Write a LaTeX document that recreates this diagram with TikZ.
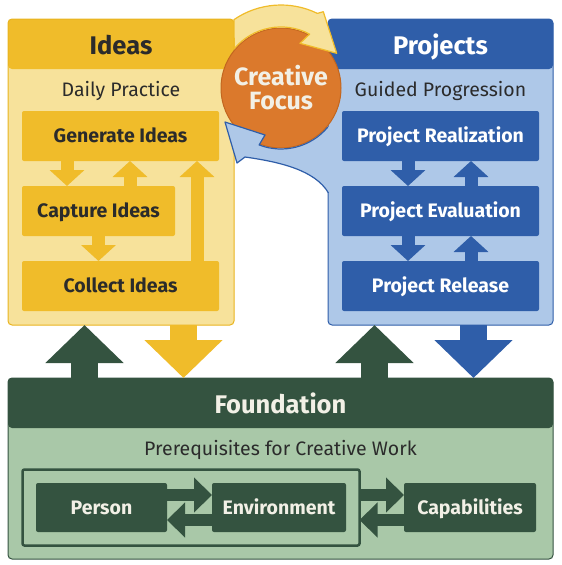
\documentclass[tikz,border=0pt]{standalone}
\usepackage{fontspec}
\setmainfont{Fira Sans}
\usetikzlibrary{positioning, arrows.meta, calc, fit}

\definecolor{ideadark}{HTML}{F0BC2A}
\definecolor{idealight}{HTML}{F7E29B}
\definecolor{ideaedge}{HTML}{E9B41F}
\definecolor{projdark}{HTML}{2F5EA9}
\definecolor{projlight}{HTML}{AEC8E8}
\definecolor{funddark}{HTML}{345340}
\definecolor{fundlight}{HTML}{A9C8A8}
\definecolor{focuscol}{HTML}{DB792C}
\definecolor{focusedge}{HTML}{C2661F}
\definecolor{txtdark}{HTML}{2B2B2B}
\definecolor{txtlight}{HTML}{F2F0E6}

\begin{document}
\begin{tikzpicture}[x=1pt, y=-1pt,
    panel/.style n args={3}{draw=#3, fill=#2, line width=1pt, rounded corners=4pt, outer sep=0pt,
        path picture={\fill[#1] (path picture bounding box.north west) rectangle ([yshift=-50pt]path picture bounding box.north east);}},
    headtxt/.style={font=\fontsize{25.5}{28}\selectfont\bfseries, text height=17.6pt, text depth=0pt},
    subtxt/.style={font=\fontsize{19.5}{22}\selectfont, text=txtdark},
    stepbox/.style={fill=#1, rounded corners=2pt, minimum height=50pt, inner sep=0pt, outer sep=0pt,
        text height=13.5pt, text depth=0pt, font=\fontsize{19.5}{22}\selectfont\bfseries},
    barrow/.style={draw=#1, line width=13pt, -{Triangle[width=34pt, length=16pt]}},
    bigarrow/.style={draw=#1, line width=27pt, -{Triangle[width=76pt, length=38pt]}},
    sarrow/.style={draw=#1, line width=12pt, -{Triangle[width=34pt, length=18pt]}}
]
\useasboundingbox (0,0) rectangle (562,565);

% panels
\node[panel={ideadark}{idealight}{ideaedge}, minimum width=226pt, minimum height=306pt] (ideasbox) at (121,172) {};
\node[panel={projdark}{projlight}{projdark}, minimum width=225pt, minimum height=306pt] (projbox) at (440.5,172) {};
\node[panel={funddark}{fundlight}{funddark}, minimum width=545pt, minimum height=181pt] (fnd) at (280.5,468.5) {};

\node[headtxt, text=txtdark] (ideastitle) at ([yshift=-27pt]ideasbox.north) {Ideas};
\node[subtxt] (ideassub) at ([yshift=-72pt]ideasbox.north) {Daily Practice};
\node[headtxt, text=white] (projtitle) at ([yshift=-27pt]projbox.north) {Projects};
\node[subtxt] (projsub) at ([yshift=-72pt]projbox.north) {Guided Progression};
\node[headtxt, text=txtlight] (fndtitle) at ([yshift=-27pt]fnd.north) {Foundation};
\node[subtxt] (fndsub) at ([yshift=-72pt]fnd.north) {Prerequisites for Creative Work};

% ideas
\node[stepbox=ideadark, minimum width=197pt, text=txtdark] (gen) at (120.5,136) {Generate Ideas};
\node[stepbox=ideadark, minimum width=153pt, text=txtdark, below=25pt of gen.south west, anchor=north west] (cap) {Capture Ideas};
\node[stepbox=ideadark, minimum width=197pt, text=txtdark, below=25pt of cap.south west, anchor=north west] (col) {Collect Ideas};

\draw[barrow=ideadark] ([xshift=45pt]gen.south west) -- ([xshift=45pt]cap.north west);
\draw[barrow=ideadark] ([xshift=108pt]cap.north west) -- ([xshift=108pt]gen.south west);
\draw[barrow=ideadark] (cap.south) -- (cap.south |- col.north);
\draw[barrow=ideadark] ([xshift=-22pt]col.north east) -- ([xshift=-22pt]gen.south east);

% projects
\node[stepbox=projdark, minimum width=197pt, text=white] (real) at (440.5,136) {Project Realization};
\node[stepbox=projdark, minimum width=197pt, text=white, below=25pt of real] (eval) {Project Evaluation};
\node[stepbox=projdark, minimum width=197pt, text=white, below=25pt of eval] (rel) {Project Release};

\foreach \a/\b in {real/eval, eval/rel} {
    \draw[barrow=projdark] ([xshift=66pt]\a.south west) -- ([xshift=66pt]\b.north west);
    \draw[barrow=projdark] ([xshift=129pt]\b.north west) -- ([xshift=129pt]\a.south west);
}

% foundation
\node[stepbox=funddark, minimum width=131pt, minimum height=49pt, text=txtlight] (person) at (101.5,507.5) {Person};
\node[stepbox=funddark, minimum width=134pt, minimum height=49pt, text=txtlight, right=45pt of person] (env) {Environment};
\node[fit=(person)(env), inner sep=13.5pt, outer sep=0pt, draw=funddark, line width=2.5pt, rounded corners=2pt] (group) {};
\node[stepbox=funddark, minimum width=132pt, minimum height=49pt, text=txtlight, right=44.5pt of group] (caps) {Capabilities};

\draw[sarrow=funddark] ([yshift=12.5pt]person.east) -- ([yshift=12.5pt]env.west);
\draw[sarrow=funddark] ([yshift=-12.5pt]env.west) -- ([yshift=-12.5pt]person.east);
\draw[sarrow=funddark] ([yshift=12.5pt]group.east) -- ([yshift=12.5pt]caps.west);
\draw[sarrow=funddark] ([yshift=-12.5pt]caps.west) -- ([yshift=-12.5pt]group.east);

% links to the foundation
\draw[bigarrow=funddark] ([xshift=76.5pt]fnd.north west) -- ([xshift=76.5pt]ideasbox.south west);
\draw[bigarrow=ideadark] ([xshift=175.5pt]ideasbox.south west) -- ([xshift=175.5pt]fnd.north west);
\draw[bigarrow=funddark] ($(projbox.south west |- fnd.north)+(46.5,0)$) -- ($(projbox.south west)+(46.5,0)$);
\draw[bigarrow=projdark] ($(projbox.south west)+(145.5,0)$) -- ($(projbox.south west |- fnd.north)+(145.5,0)$);

% creative focus
\node[circle, fill=focuscol, draw=focusedge, line width=1pt, minimum size=120pt, inner sep=0pt, align=center,
    font=\fontsize{25}{24}\selectfont\bfseries, text=txtlight] (focus) at (281,88) {Creative\\Focus};

\filldraw[fill=idealight, draw=ideadark, line width=1.2pt, line join=round]
    (234,19.6) arc[start angle=-124.5, end angle=-64, radius=83] -- (323.3,11.7) -- (336.7,53.3)
    -- (300,43.3) -- (309.6,34.1) arc[start angle=-62, end angle=-140, radius=61] -- cycle;

\fill[projlight] (334,127.2) -- (327.7,127.2) arc[start angle=-320, end angle=-249, radius=61]
    -- (265,135) -- (225,122) -- (237,163) -- (245,157) .. controls (280,162) and (315,170) .. (330,195)
    -- (334,195) -- cycle;
\draw[projdark, line width=1.2pt, line join=round] (327.7,127.2) arc[start angle=-320, end angle=-249, radius=61]
    -- (265,135) -- (225,122) -- (237,163) -- (245,157) .. controls (280,162) and (315,170) .. (328.5,193);
\end{tikzpicture}
\end{document}
